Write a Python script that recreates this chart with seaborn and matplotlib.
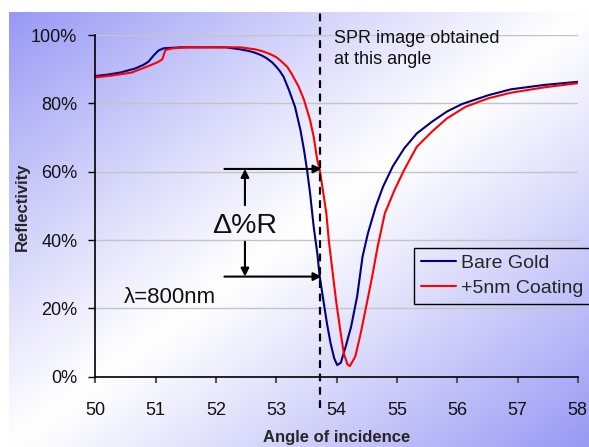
import numpy as np
import pandas as pd
import matplotlib
matplotlib.use("Agg")
import matplotlib.pyplot as plt
from matplotlib.ticker import PercentFormatter
import seaborn as sns

# ---- data ----
angle_bare = [50.0, 50.2, 50.41, 50.66, 50.80, 50.88, 50.97, 51.05, 51.13, 51.41, 52.16, 52.40, 52.55, 52.65, 52.76, 52.84,
              52.93, 53.00, 53.06, 53.12, 53.21, 53.31, 53.40, 53.46, 53.51, 53.56, 53.62, 53.68, 53.72,
              53.78, 53.84, 53.90, 53.96, 54.01, 54.07, 54.15, 54.24, 54.34, 54.43, 54.52,
              54.65, 54.77, 54.93, 55.12, 55.33, 55.58, 55.83, 56.08, 56.52, 56.89, 57.45, 58.0]
refl_bare = [88.0, 88.4, 89.0, 90.2, 91.3, 92.2, 94.1, 95.5, 96.1, 96.4, 96.4, 95.8, 95.3, 94.8, 94.0, 93.2,
             92.0, 90.7, 89.4, 87.8, 83.9, 79.0, 72.2, 66.3, 60.5, 53.7, 43.9, 36.1, 29.3,
             22.4, 15.6, 9.8, 5.4, 3.4, 4.1, 8.8, 14.6, 23.4, 35.1, 42.0,
             49.8, 55.6, 61.5, 66.8, 71.2, 74.6, 77.6, 79.8, 82.4, 84.1, 85.4, 86.3]

angle_coat = [50.0, 50.3, 50.60, 50.85, 51.03, 51.11, 51.16, 51.28, 51.53, 52.40, 52.65, 52.78, 52.90,
              53.00, 53.09, 53.18, 53.25, 53.37, 53.46, 53.56, 53.62, 53.68, 53.72, 53.78, 53.83, 53.87,
              53.93, 53.99, 54.06, 54.12, 54.18, 54.22, 54.31, 54.40, 54.49, 54.59, 54.68,
              54.80, 54.96, 55.12, 55.33, 55.58, 55.83, 56.14, 56.52, 56.89, 57.45, 58.0]
refl_coat = [87.6, 88.2, 89.0, 90.7, 92.0, 92.9, 95.6, 96.1, 96.4, 96.4, 95.8, 95.2, 94.4,
             93.5, 92.2, 90.7, 88.8, 84.9, 81.0, 75.1, 70.2, 63.4, 60.5, 53.7, 47.8, 40.0,
             31.2, 22.4, 13.7, 6.8, 3.6, 3.1, 5.9, 12.7, 20.5, 29.3, 38.0,
             47.8, 54.6, 60.5, 67.3, 71.7, 75.6, 79.0, 81.5, 83.1, 84.7, 85.9]

series_names = ["Bare Gold", "+5nm Coating"]
x_ticks = [50, 51, 52, 53, 54, 55, 56, 57, 58]
y_ticks = [0, 20, 40, 60, 80, 100]
spr_angle = 53.72
delta_top, delta_bottom = 60.8, 29.3

df = pd.concat([
    pd.DataFrame({"Angle": angle_bare, "R": refl_bare, "Series": series_names[0]}),
    pd.DataFrame({"Angle": angle_coat, "R": refl_coat, "Series": series_names[1]}),
], ignore_index=True)

sns.set_theme(style="white")
plt.rcParams["font.family"] = ["Liberation Sans", "DejaVu Sans"]

W, H = 589, 447
fig = plt.figure(figsize=(W / 100, H / 100), dpi=100)
fig.patch.set_facecolor("white")

# gradient background
bg = fig.add_axes([9 / W, 0, 1 - 9 / W, 1 - 12 / H], zorder=-10)
nx, ny = 400, 300
u = np.linspace(0, 1, nx)[None, :]
v = np.linspace(0, 1, ny)[:, None]
t = np.abs(u + v - 1.0)
t = np.clip(t, 0, 1) ** 1.1
c = np.array([152, 152, 245]) / 255.0
img = (1 - t)[..., None] * np.ones(3) + t[..., None] * c
bg.imshow(img, aspect="auto", extent=[0, 1, 1, 0], interpolation="bilinear")
bg.set_axis_off()

ax = fig.add_axes([95.4 / W, 1 - 376.7 / H, 482.4 / W, 341.7 / H])
ax.patch.set_alpha(0)

sns.lineplot(data=df, x="Angle", y="R", hue="Series", hue_order=series_names,
             palette=["#000080", "#ff0000"], linewidth=1.5, ax=ax, sort=False,
             estimator=None, legend=True)

ax.set_xlim(50, 58)
ax.set_ylim(0, 100)
ax.set_xticks(x_ticks)
ax.set_yticks(y_ticks)
ax.yaxis.set_major_formatter(PercentFormatter(100, decimals=0))
ax.grid(axis="y", color="#c4c4c4", linewidth=1)
ax.grid(axis="x", visible=False)
ax.set_axisbelow(True)
for s in ["top", "right"]:
    ax.spines[s].set_visible(False)
for s in ["left", "bottom"]:
    ax.spines[s].set_color("black")
    ax.spines[s].set_linewidth(1.2)
ax.tick_params(axis="y", left=True, length=5, width=1, color="black", pad=8, labelsize=13, labelcolor="#111111")
ax.tick_params(axis="x", bottom=True, length=4, width=1.5, color="#555555", pad=14, labelsize=13, labelcolor="#111111")

ax.set_xlabel("Angle of incidence", fontsize=12, fontweight="bold", va="center")
ax.set_ylabel("Reflectivity", fontsize=12, fontweight="bold", va="center")
ax.xaxis.set_label_coords(0.5, -0.177)
ax.yaxis.set_label_coords(-0.152, 0.497)

# dashed SPR line
ax.axvline(spr_angle, ymin=-0.092, ymax=1.067, color="black", linestyle=(0, (3.5, 2.5)),
           linewidth=1.6, clip_on=False, zorder=5)

# arrows
arr = dict(arrowstyle="-|>", color="black", lw=1.5, mutation_scale=12, shrinkA=0, shrinkB=0)
ax.annotate("", xy=(spr_angle + 0.03, delta_top), xytext=(52.14, delta_top), arrowprops=arr)
ax.annotate("", xy=(spr_angle + 0.03, delta_bottom), xytext=(52.14, delta_bottom), arrowprops=arr)
ax.annotate("", xy=(52.48, delta_top), xytext=(52.48, 50.2), arrowprops=arr)
ax.annotate("", xy=(52.48, delta_bottom), xytext=(52.48, 39.5), arrowprops=arr)

ax.text(52.47, 44.2, "Δ%R", fontsize=20.5, ha="center", va="center", color="#111111")
ax.text(50.47, 23.1, "λ=800nm", fontsize=16, ha="left", va="center", color="#111111")
ax.text(53.95, 101.5, "SPR image obtained\nat this angle", fontsize=13, ha="left", va="top",
        color="#111111", linespacing=1.35)

leg = ax.legend(loc="upper left", bbox_to_anchor=(0.66, 0.377), borderaxespad=0,
                fontsize=14, frameon=True, fancybox=False, edgecolor="black",
                facecolor="none", framealpha=1, handlelength=1.8, handletextpad=0.3,
                borderpad=0.35, labelspacing=0.35, title=None)
leg.get_frame().set_linewidth(1.0)
for line in leg.get_lines():
    line.set_linewidth(1.5)

fig.savefig("out.png", dpi=100)
